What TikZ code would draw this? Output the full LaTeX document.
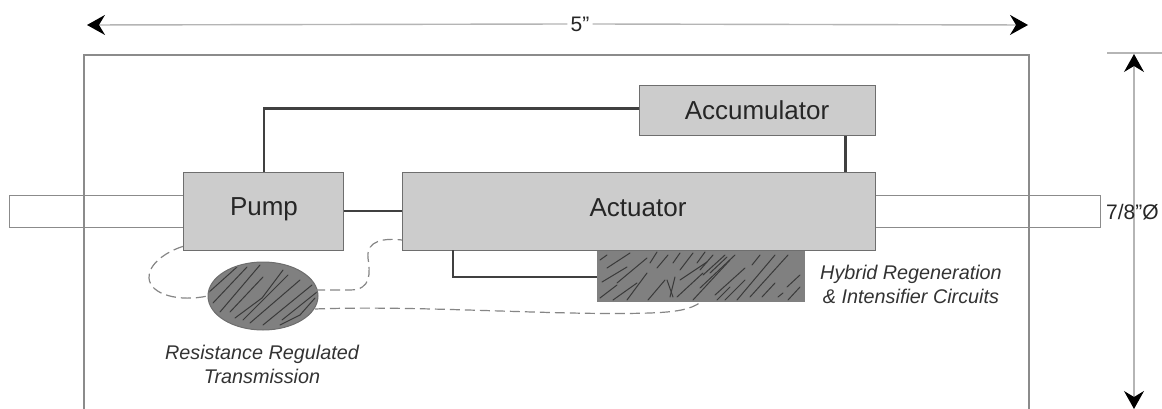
\documentclass[tikz,border=0pt]{standalone}
\usepackage{fontspec}
\setmainfont{Liberation Sans}
\usetikzlibrary{shapes.geometric,arrows.meta,calc}
\definecolor{boxfill}{HTML}{CCCCCC}
\definecolor{boxedge}{HTML}{6E6E6E}
\definecolor{darkfill}{HTML}{808080}
\definecolor{hatchc}{HTML}{3A3A3A}
\definecolor{dimc}{HTML}{B5B5B5}
\definecolor{conn}{HTML}{404040}
\tikzset{
  x=1pt,y=-1pt,
  BigTip/.tip={Stealth[black,length=18pt,width=20pt,inset=6pt]},
  block/.style={draw=boxedge,fill=boxfill,line width=1.4pt,inner sep=0pt,anchor=north west},
  blocktext/.style={font=\fontsize{26}{30}\selectfont,text=black!85,inner sep=0pt},
  outline/.style={draw=boxedge!80,line width=1.4pt,inner sep=0pt,anchor=north west},
  wire/.style={draw=conn,line width=2.4pt},
  dashwire/.style={draw=gray!95,line width=1.2pt,dash pattern=on 10pt off 5pt},
  dimline/.style={draw=dimc,line width=1.4pt},
  hatch/.style={draw=hatchc,line width=1pt,line cap=round},
  caption/.style={font=\itshape\fontsize{19.8}{24}\selectfont,align=center,text=black!80,inner sep=0pt},
  label/.style={font=\fontsize{21}{25}\selectfont,text=black!85},
}
\begin{document}
\begin{tikzpicture}
\useasboundingbox (0,0) rectangle (1162,409);
\fill[white] (0,0) rectangle (1162,409);
% housing
\draw[draw=boxedge!80,line width=1.4pt] (84,420) -- (84,55) -- (1029,55) -- (1029,420);
% shafts
\node[outline,minimum width=174pt,minimum height=32pt] (shaftl) at (9,195) {};
\node[outline,minimum width=225pt,minimum height=32pt] (shaftr) at (875,195) {};
% blocks
\node[block,minimum width=160pt,minimum height=78pt] (pump) at (183,172) {};
\node[blocktext] (pumpt) at (264,209) {Pump};
\node[block,minimum width=473pt,minimum height=78pt] (act) at (402,172) {};
\node[blocktext] (actt) at (638,208) {Actuator};
\node[block,minimum width=236pt,minimum height=50pt] (acc) at (639,85) {};
\node[blocktext] (acct) at (757,110) {Accumulator};
% hybrid block
\node[draw=darkfill,fill=darkfill,line width=1pt,inner sep=0pt,anchor=north west,minimum width=207pt,minimum height=50pt] (hyb) at (597,251) {};
\begin{scope}
\clip (597,251) rectangle (804,301);
\foreach \a/\b/\c/\d in {
 600/260/607/255, 607/268/630/253, 602/282/627/267, 617/283/647/258, 600/298/617/285,
 627/300/647/273, 613/300/637/283, 650/263/657/252, 657/268/668/255, 648/300/665/280,
 670/297/675/277, 667/280/673/297, 673/263/680/253, 680/270/693/253, 697/263/705/252,
 680/280/707/262, 677/297/703/273, 693/300/730/260, 717/300/730/287, 710/273/727/257,
 700/270/713/255, 703/275/725/255, 700/288/735/255, 715/295/745/268, 752/265/760/255,
 737/300/775/255, 750/297/788/255, 787/287/800/275, 788/300/800/287, 778/297/783/293,
 762/297/775/283, 725/300/745/280}
  \draw[hatch] (\a,\b) -- (\c,\d);
\end{scope}
% ellipse
\node[ellipse,draw=darkfill!85!black,fill=darkfill,line width=1pt,inner sep=0pt,minimum width=110pt,minimum height=68pt] (reg) at (263,296) {};
\begin{scope}
\clip (263,296) ellipse [x radius=54pt,y radius=33pt];
\foreach \a/\b/\c/\d in {
 208/293/237/267, 213/303/247/267, 220/312/260/265, 230/312/263/277, 235/318/262/298,
 262/298/283/270, 243/320/288/275, 250/323/300/280, 263/325/312/285, 282/320/317/292,
 280/325/300/315, 300/315/315/298}
  \draw[hatch] (\a,\b) -- (\c,\d);
\end{scope}
% connectors
\draw[wire] (pump.north) |- ([yshift=2pt]acc.west);
\draw[wire] ([xshift=-31pt]acc.south east) -- ([xshift=-31pt]acc.south east |- act.north);
\draw[wire] (pump.east |- 0,211) -- (act.west |- 0,211);
\draw[wire] (453,250) |- (hyb.west |- 0,277);
% dashed
\draw[dashwire] (pump.south west) ++(0,-5) .. controls (165,252) and (148,265) .. (149,278)
  .. controls (150,295) and (180,302) .. (reg.west);
\draw[dashwire] (315,290) -- (350,290) .. controls (372,290) and (370,272) .. (368,258)
  .. controls (366,240) and (385,238) .. (act.south west |- 0,240);
\draw[dashwire] (315,309) .. controls (420,305) and (560,316) .. (650,313)
  .. controls (675,312) and (690,310) .. ([xshift=-104pt]hyb.south east);
% dims
\coordinate (dl) at (87,25);
\coordinate (dr) at (1028,25);
\node[label,inner sep=3pt,fill=white] (five) at (580,24) {5”};
\draw[dimline,{BigTip}-] (dl) -- (five.west);
\draw[dimline,-{BigTip}] (five.east) -- (dr);
\coordinate (vt) at (1107,53); \coordinate (vtr) at (1162,53);
\draw[dimline] (vt) -- (vtr);
\coordinate (ut) at (1134,54); \coordinate (ub) at (1134,409);
\draw[dimline,{BigTip}-{BigTip}] (ut) -- (ub);
% labels
\node[label,anchor=west,inner sep=0pt] (dia) at (1106,212) {7/8”Ø};
\node[caption] (hybt) at (911,284) {Hybrid Regeneration\\\& Intensifier Circuits};
\node[caption] (regt) at (262,364) {Resistance Regulated\\Transmission};
\end{tikzpicture}
\end{document}
